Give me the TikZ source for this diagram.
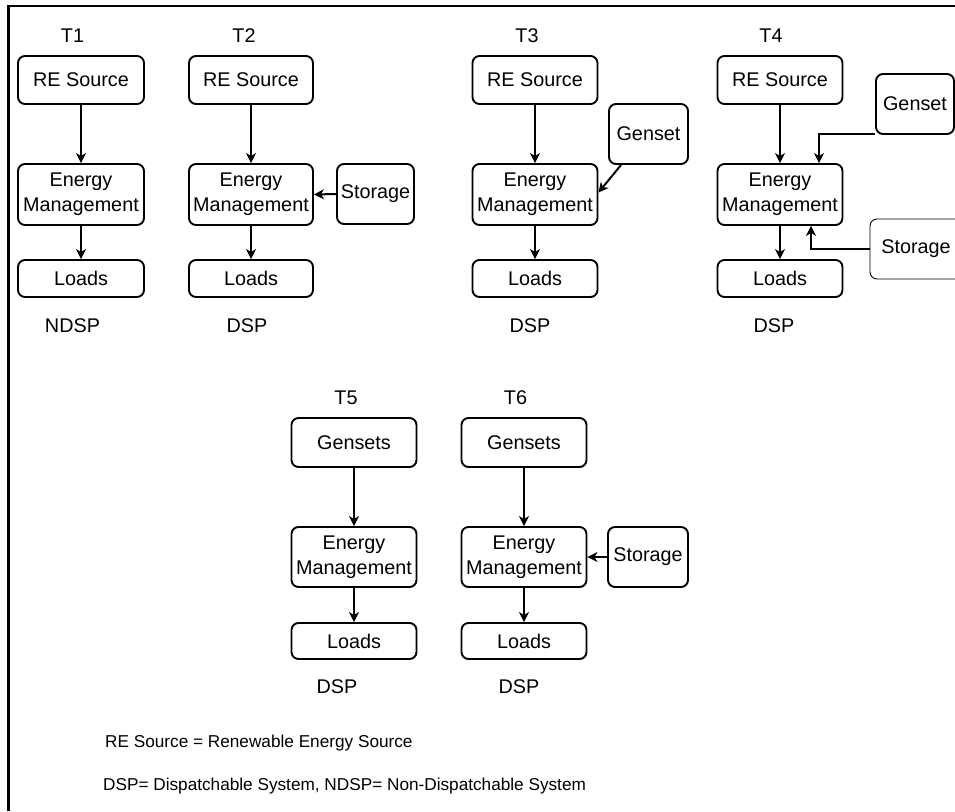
\documentclass[tikz,border=0pt]{standalone}
\usepackage{fontspec}
\setmainfont{Liberation Sans}
\usetikzlibrary{arrows.meta,calc}
\tikzset{
  box/.style={draw, line width=1.9pt, rounded corners=7pt, align=center, inner sep=0pt,
    font=\fontsize{19.8}{25}\selectfont},
  thinbox/.style={box, line width=0.9pt},
  lbl/.style={inner sep=0pt, font=\fontsize{19.8}{24}\selectfont},
  legend/.style={inner sep=0pt, anchor=west, font=\fontsize{17.2}{22}\selectfont},
  conn/.style={line width=2pt, -{Stealth[length=10pt,width=10pt,inset=3pt]}},
}
\begin{document}
\begin{tikzpicture}[x=1pt,y=-1pt]
\useasboundingbox (0,0) rectangle (955,811);
\clip (0,0) rectangle (955,811);
% frame
\draw[line width=2.2pt] (8.5,811) -- (8.5,6) -- (960,6);

% ---- T1
\node[lbl] (t1) at (72.5,36) {T1};
\node[box, minimum width=126pt, minimum height=48pt] (re1) at (81,80) {RE Source};
\node[box, minimum width=126pt, minimum height=61pt] (em1) at (81,194.5) {Energy\\Management};
\node[box, minimum width=126pt, minimum height=37pt] (ld1) at (81,278.5) {Loads};
\node[lbl] (d1) at (72.5,325.5) {NDSP};
\draw[conn] (re1) -- (em1);
\draw[conn] (em1) -- (ld1);

% ---- T2
\node[lbl] (t2) at (244,36) {T2};
\node[box, minimum width=124pt, minimum height=48pt] (re2) at (251,80) {RE Source};
\node[box, minimum width=124pt, minimum height=61pt] (em2) at (251,194.5) {Energy\\Management};
\node[box, minimum width=124pt, minimum height=37pt] (ld2) at (251,278.5) {Loads};
\node[box, minimum width=77pt, minimum height=60pt] (st2) at (375.5,194) {Storage};
\node[lbl] (d2) at (247,325.5) {DSP};
\draw[conn] (re2) -- (em2);
\draw[conn] (em2) -- (ld2);
\draw[conn] (st2.west) -- (em2.east);

% ---- T3
\node[lbl] (t3) at (527,36) {T3};
\node[box, minimum width=125pt, minimum height=48pt] (re3) at (535,80) {RE Source};
\node[box, minimum width=125pt, minimum height=61pt] (em3) at (535,194.5) {Energy\\Management};
\node[box, minimum width=125pt, minimum height=37pt] (ld3) at (535,278.5) {Loads};
\node[box, minimum width=79pt, minimum height=60pt] (g3) at (648.5,134) {Genset};
\node[lbl] (d3) at (530,325.5) {DSP};
\draw[conn] (re3) -- (em3);
\draw[conn] (em3) -- (ld3);
\draw[conn] ($(g3.south west)+(13,0)$) -- ($(em3.east)+(0,-2)$);

% ---- T4
\node[lbl] (t4) at (771,36) {T4};
\node[box, minimum width=125pt, minimum height=48pt] (re4) at (780,80) {RE Source};
\node[box, minimum width=125pt, minimum height=61pt] (em4) at (780,194.5) {Energy\\Management};
\node[box, minimum width=125pt, minimum height=37pt] (ld4) at (780,278.5) {Loads};
\node[box, minimum width=78pt, minimum height=60pt] (g4) at (915,104) {Genset};
\node[thinbox, minimum width=92pt, minimum height=60pt] (s4) at (916,249) {Storage};
\node[lbl] (d4) at (774,325.5) {DSP};
\draw[conn] (re4) -- (em4);
\draw[conn] (em4) -- (ld4);
\draw[conn] ($(g4.south west)+(0,-1)$) -| ($(em4.north)+(39,0)$);
\draw[conn] (s4.west) -| ($(em4.south)+(31,0)$);

% ---- T5
\node[lbl] (t5) at (346,397.5) {T5};
\node[box, minimum width=125pt, minimum height=49pt] (g5) at (354,442.5) {Gensets};
\node[box, minimum width=125pt, minimum height=60pt] (em5) at (354,557) {Energy\\Management};
\node[box, minimum width=125pt, minimum height=36pt] (ld5) at (354,641) {Loads};
\node[lbl] (d5) at (337,687) {DSP};
\draw[conn] (g5) -- (em5);
\draw[conn] (em5) -- (ld5);

% ---- T6
\node[lbl] (t6) at (515.5,397.5) {T6};
\node[box, minimum width=125pt, minimum height=49pt] (g6) at (524,442.5) {Gensets};
\node[box, minimum width=125pt, minimum height=60pt] (em6) at (524,557) {Energy\\Management};
\node[box, minimum width=125pt, minimum height=36pt] (ld6) at (524,641) {Loads};
\node[box, minimum width=80pt, minimum height=60pt] (s6) at (648,557) {Storage};
\node[lbl] (d6) at (519,687) {DSP};
\draw[conn] (g6) -- (em6);
\draw[conn] (em6) -- (ld6);
\draw[conn] (s6.west) -- (em6.east);

% ---- legend
\node[legend] (leg1) at (105,743) {RE Source = Renewable Energy Source};
\node[legend] (leg2) at (103,786) {DSP= Dispatchable System, NDSP= Non-Dispatchable System};
\end{tikzpicture}
\end{document}
